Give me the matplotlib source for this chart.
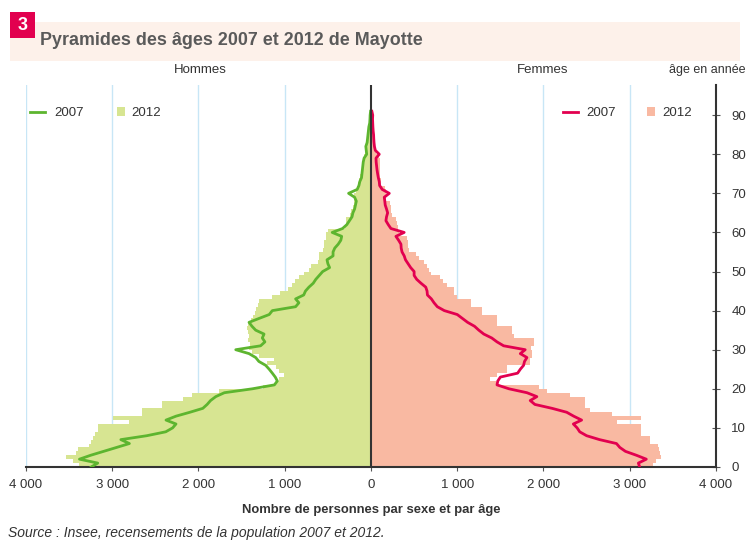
import numpy as np
import matplotlib.pyplot as plt
from matplotlib.lines import Line2D
from matplotlib.patches import Patch, Rectangle
from matplotlib.ticker import FuncFormatter

plt.rcParams['font.family'] = ['Liberation Sans', 'DejaVu Sans']

# Population par âge (0 à 95 ans) - recensement 2012
ages_2012 = np.arange(96)
hommes_2012 = [3380, 3450, 3540, 3420, 3400, 3270, 3245, 3225, 3200, 3170,
               3170, 2800, 2995, 2650, 2650, 2420, 2420, 2185, 2070, 1760,
               1250, 1100, 1070, 1010, 1070, 1100, 1200, 1125, 1300, 1380,
               1420, 1400, 1430, 1420, 1430, 1440, 1430, 1390, 1370, 1350,
               1330, 1310, 1300, 1150, 1050, 960, 920, 880, 840, 780,
               720, 700, 620, 600, 600, 560, 540, 540, 520, 520,
               500, 300, 290, 290, 240, 235, 210, 200, 200, 200,
               170, 160, 150, 140, 130, 100, 95, 90, 85, 80,
               70, 55, 50, 45, 40, 35, 30, 25, 20, 18,
               15, 10, 8, 5, 4, 3]
femmes_2012 = [3270, 3300, 3365, 3346, 3340, 3327, 3230, 3230, 3135, 3135,
               3135, 2850, 3135, 2800, 2540, 2480, 2480, 2480, 2308, 2038,
               1950, 1450, 1380, 1460, 1577, 1577, 1846, 1846, 1865, 1865,
               1860, 1885, 1885, 1654, 1630, 1630, 1460, 1460, 1460, 1290,
               1290, 1154, 1154, 1000, 960, 960, 880, 840, 800, 700,
               670, 650, 620, 560, 520, 440, 430, 430, 420, 320,
               310, 310, 300, 290, 240, 230, 230, 220, 175, 175,
               170, 165, 120, 115, 110, 110, 105, 100, 100, 95,
               60, 50, 45, 40, 40, 35, 30, 25, 20, 15,
               12, 10, 8, 5, 4, 3]

# recensement 2007 (0 à 91 ans)
ages_2007 = np.arange(92)
hommes_2007 = [3244, 3168, 3380, 3250, 3100, 2950, 2801, 2900, 2600, 2380,
               2300, 2261, 2377, 2261, 2100, 1950, 1900, 1860, 1800, 1700,
               1376, 1120, 1086, 1110, 1144, 1180, 1221, 1300, 1337, 1414,
               1568, 1280, 1230, 1260, 1240, 1337, 1380, 1414, 1298, 1180,
               1144, 874, 836, 874, 780, 760, 720, 670, 640, 600,
               560, 480, 500, 510, 440, 440, 420, 380, 350, 340,
               450, 330, 280, 250, 220, 210, 190, 180, 170, 190,
               260, 160, 140, 130, 110, 105, 100, 95, 90, 80,
               50, 55, 60, 45, 40, 35, 30, 25, 15, 12, 10, 5]
femmes_2007 = [3115, 3100, 3192, 3077, 2950, 2885, 2846, 2650, 2500, 2420,
               2390, 2346, 2442, 2350, 2269, 2100, 1900, 1846, 1923, 1808,
               1600, 1461, 1470, 1500, 1700, 1731, 1769, 1780, 1808, 1731,
               1788, 1538, 1461, 1400, 1308, 1250, 1200, 1120, 1060, 1000,
               850, 769, 731, 700, 654, 650, 635, 580, 530, 500,
               500, 460, 430, 400, 385, 360, 350, 347, 320, 289,
               385, 231, 200, 173, 180, 193, 180, 165, 160, 154,
               212, 130, 100, 96, 85, 77, 70, 65, 60, 58,
               96, 50, 40, 35, 32, 30, 25, 22, 20, 18, 20, 10]

x_ticks = [-4000, -3000, -2000, -1000, 0, 1000, 2000, 3000, 4000]
y_ticks = [0, 10, 20, 30, 40, 50, 60, 70, 80, 90]

vert_h = '#d7e592'
vert_l = '#5db52f'
rose_h = '#f9b9a2'
rouge_l = '#e2004f'
gris = '#333333'
W, H = 747, 541

fig = plt.figure(figsize=(W / 100, H / 100), dpi=100)
ax = fig.add_axes([0.0348, 0.1368, 0.9237, 0.706])

# bandeau du titre
fig.patches.append(Rectangle((0.013, 0.888), 0.978, 0.072, transform=fig.transFigure,
                             facecolor='#fdf1ea', edgecolor='none', zorder=0))
fig.patches.append(Rectangle((0.013, 0.929), 0.034, 0.048, transform=fig.transFigure,
                             facecolor='#e2004f', edgecolor='none', zorder=1))
fig.text(0.030, 0.953, '3', color='white', fontsize=13, fontweight='bold',
         ha='center', va='center')
fig.text(0.053, 0.926, 'Pyramides des âges 2007 et 2012 de Mayotte', color='#5a5a5a',
         fontsize=12.9, fontweight='bold', ha='left', va='center')

# grille verticale
for g in [-4000, -3000, -2000, -1000, 1000, 2000, 3000]:
    ax.axvline(g, color='#c8e6f6', lw=1, zorder=0)

ax.barh(ages_2012, -np.array(hommes_2012), height=1, align='edge',
        color=vert_h, edgecolor='none', zorder=1)
ax.barh(ages_2012, femmes_2012, height=1, align='edge',
        color=rose_h, edgecolor='none', zorder=1)
ax.plot(-np.array(hommes_2007), ages_2007, color=vert_l, lw=2, zorder=3)
ax.plot(femmes_2007, ages_2007, color=rouge_l, lw=2, zorder=3)
ax.axvline(0, color=gris, lw=1.5, zorder=4)

ax.set_xlim(-4000, 4000)
ax.set_ylim(0, 97.7)
ax.set_xticks(x_ticks)
ax.xaxis.set_major_formatter(FuncFormatter(lambda v, p: f"{abs(int(v)):,}".replace(',', ' ')))
ax.set_yticks(y_ticks)
ax.yaxis.tick_right()
ax.tick_params(axis='y', direction='inout', length=6, color='#555555', pad=8,
               labelsize=9.5, labelcolor='#333333')
ax.tick_params(axis='x', direction='out', length=3, color='#555555', pad=6,
               labelsize=9.5, labelcolor='#333333')
for s in ['top', 'left']:
    ax.spines[s].set_visible(False)
for s in ['bottom', 'right']:
    ax.spines[s].set_color(gris)
    ax.spines[s].set_linewidth(1.5)

ax.set_xlabel('Nombre de personnes par sexe et par âge', fontsize=9.4,
              fontweight='bold', color='#333333', labelpad=9)

fig.text(0.268, 0.870, 'Hommes', fontsize=9.5, color='#333333', ha='center', va='center')
fig.text(0.727, 0.870, 'Femmes', fontsize=9.5, color='#333333', ha='center', va='center')
fig.text(0.998, 0.870, 'âge en année', fontsize=9, color='#333333', ha='right', va='center')
fig.text(0.011, 0.0148, 'Source : Insee, recensements de la population 2007 et 2012.',
         fontsize=10, style='italic', color='#333333', ha='left', va='center')


def entree(handle, label, x_px, hlen, pad):
    leg = fig.legend(handles=[handle], labels=[label], frameon=False, fontsize=9.5,
                     loc='center left', bbox_to_anchor=(x_px / W, 1 - 113 / H),
                     bbox_transform=fig.transFigure, borderpad=0, borderaxespad=0,
                     handlelength=hlen, handleheight=0.6, handletextpad=pad)
    leg.get_texts()[0].set_color('#333333')
    return leg


entree(Line2D([], [], color=vert_l, lw=2), '2007', 30, 1.1, 0.75)
entree(Patch(facecolor=vert_h, edgecolor='none'), '2012', 117, 0.6, 0.45)
entree(Line2D([], [], color=rouge_l, lw=2), '2007', 563, 1.1, 0.7)
entree(Patch(facecolor=rose_h, edgecolor='none'), '2012', 647, 0.6, 0.55)

fig.savefig('out.png', dpi=100)
